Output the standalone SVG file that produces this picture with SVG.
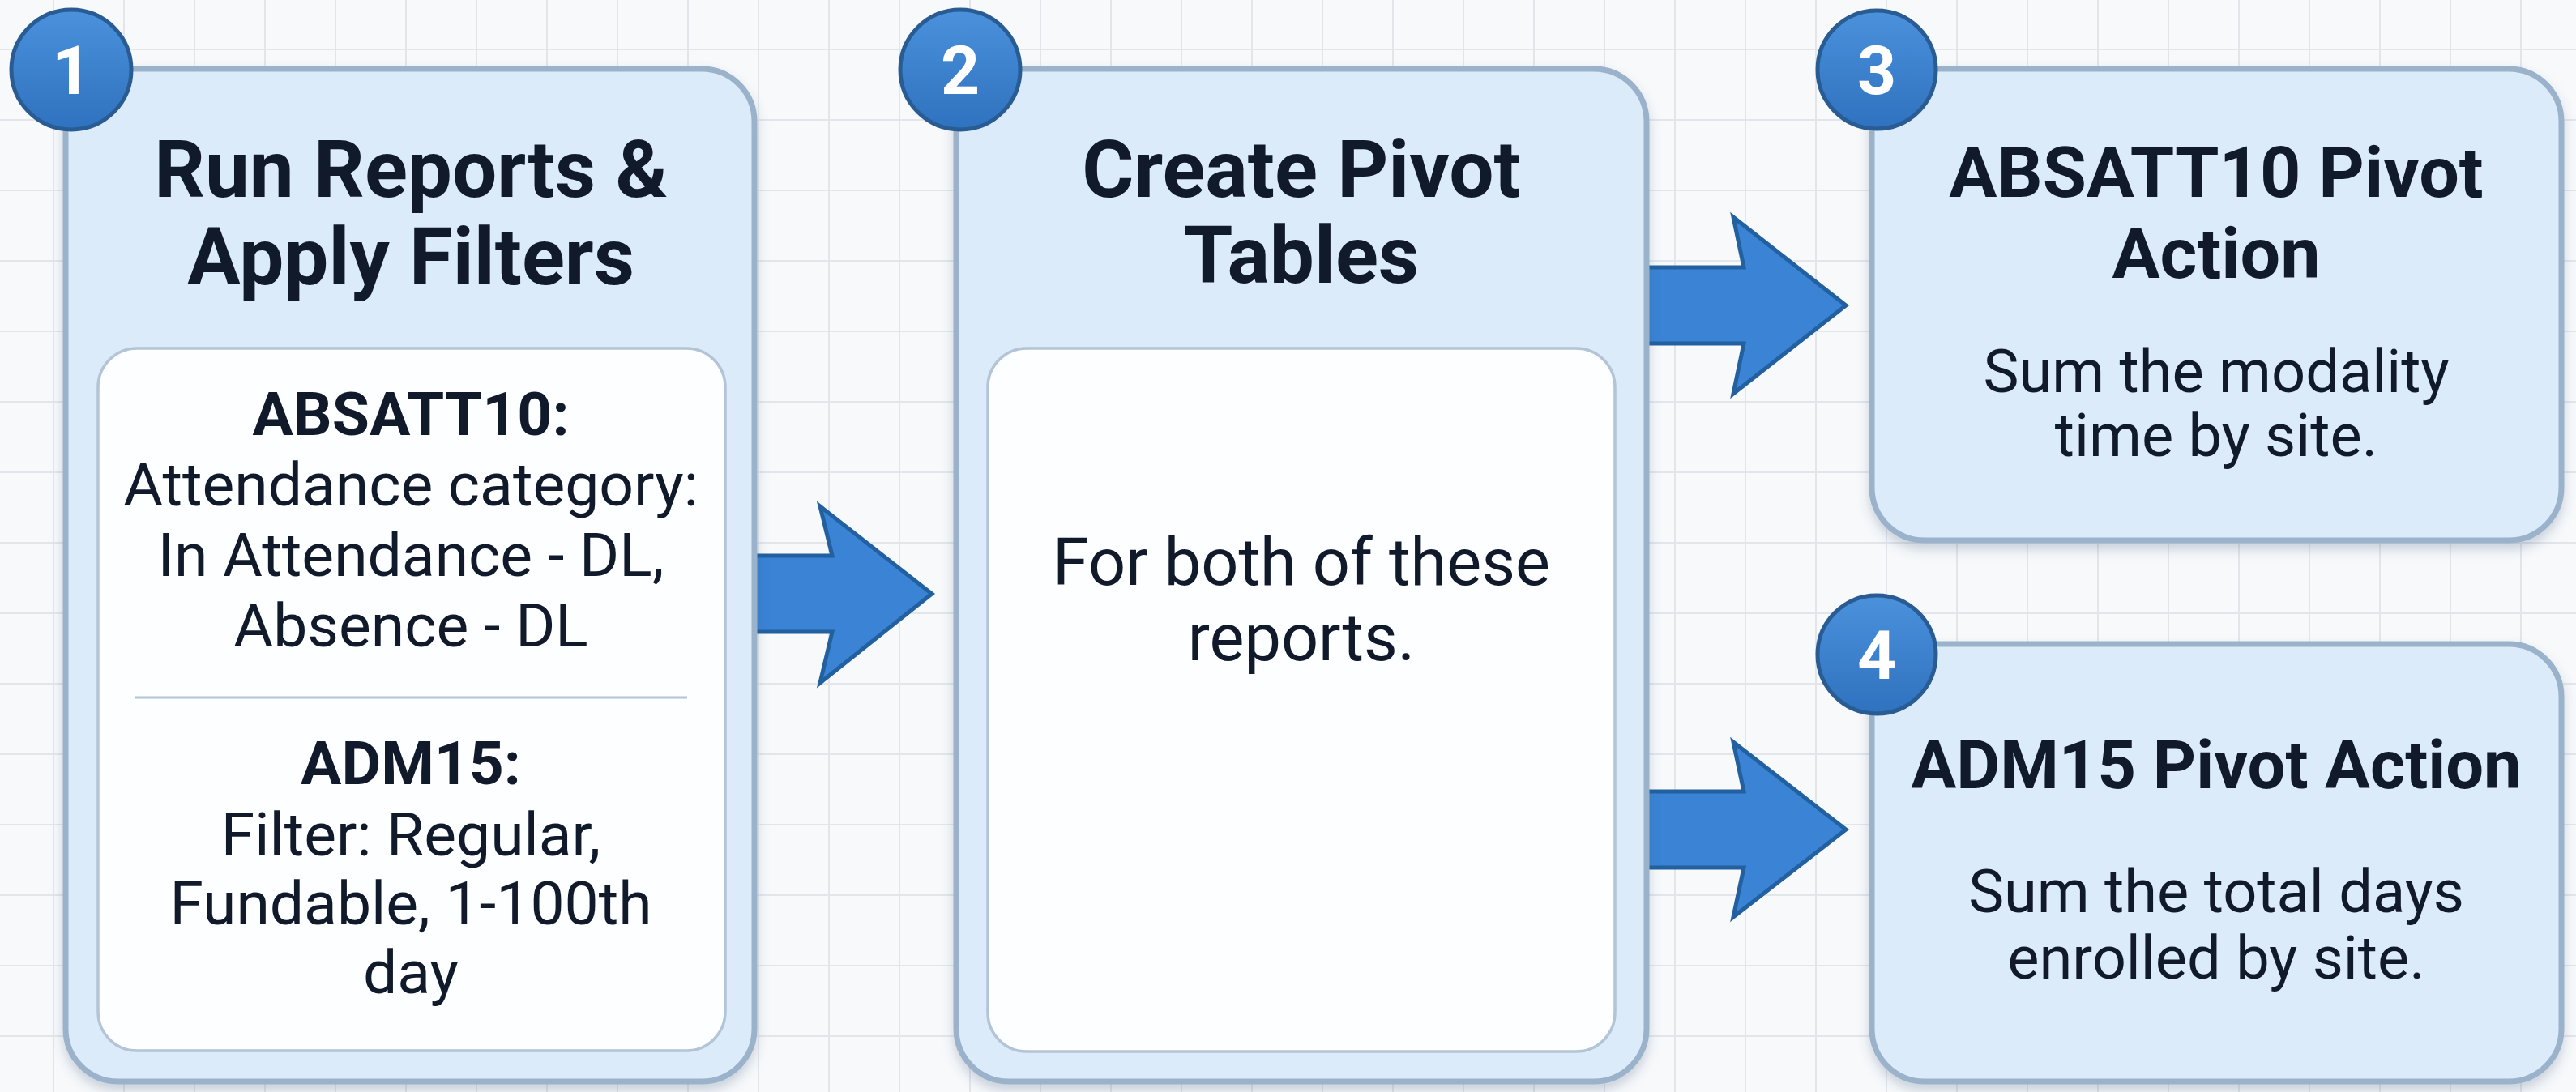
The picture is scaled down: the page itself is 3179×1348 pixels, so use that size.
<svg xmlns="http://www.w3.org/2000/svg" width="3179" height="1348" viewBox="0 0 3179 1348">
<defs>
<style>
.bg{fill:#f7f9fb}
.grid line{stroke:#e2e6eb;stroke-width:2}
.card{fill:#dcebfa;stroke:#9ab2ca;stroke-width:7}
.inner{fill:#fdfeff;stroke:#b2c4d5;stroke-width:3.5}
.divider{stroke:#b2c4d5;stroke-width:3}
.badge{fill:url(#badgeGrad);stroke:#2a5c94;stroke-width:5}
.num{font-family:Roboto,'Liberation Sans',sans-serif;font-weight:700;font-size:84px;fill:#ffffff;text-anchor:middle}
.t{font-family:Roboto,'Liberation Sans',sans-serif;fill:#111a2b;text-anchor:middle}
.title{font-weight:700;font-size:98px}
.title3{font-weight:700;font-size:88px}
.title4{font-weight:700;font-size:83px}
.sub{font-weight:700;font-size:75px}
.body{font-weight:400;font-size:75px}
.body2{font-weight:400;font-size:81px}
.body3{font-weight:400;font-size:74px}
.arrow{fill:#3a83d5;stroke:#22609f;stroke-width:5;stroke-linejoin:miter}
</style>
<linearGradient id="badgeGrad" x1="0" y1="0" x2="0" y2="1">
<stop offset="0" stop-color="#4b91dc"/>
<stop offset="1" stop-color="#2f72bf"/>
</linearGradient>
<filter id="shadow" x="-10%" y="-10%" width="120%" height="125%">
<feDropShadow dx="0" dy="8" stdDeviation="7" flood-color="#3a5878" flood-opacity="0.25"/>
</filter>
</defs>

<rect class="bg" x="0" y="0" width="3179" height="1348"/>
<g class="grid">
<line x1="66" y1="0" x2="66" y2="1348"/><line x1="153" y1="0" x2="153" y2="1348"/><line x1="240" y1="0" x2="240" y2="1348"/><line x1="327" y1="0" x2="327" y2="1348"/><line x1="414" y1="0" x2="414" y2="1348"/><line x1="501" y1="0" x2="501" y2="1348"/><line x1="588" y1="0" x2="588" y2="1348"/><line x1="675" y1="0" x2="675" y2="1348"/><line x1="762" y1="0" x2="762" y2="1348"/><line x1="849" y1="0" x2="849" y2="1348"/><line x1="936" y1="0" x2="936" y2="1348"/><line x1="1023" y1="0" x2="1023" y2="1348"/><line x1="1110" y1="0" x2="1110" y2="1348"/><line x1="1197" y1="0" x2="1197" y2="1348"/><line x1="1284" y1="0" x2="1284" y2="1348"/><line x1="1371" y1="0" x2="1371" y2="1348"/><line x1="1458" y1="0" x2="1458" y2="1348"/><line x1="1545" y1="0" x2="1545" y2="1348"/><line x1="1632" y1="0" x2="1632" y2="1348"/><line x1="1719" y1="0" x2="1719" y2="1348"/><line x1="1806" y1="0" x2="1806" y2="1348"/><line x1="1893" y1="0" x2="1893" y2="1348"/><line x1="1980" y1="0" x2="1980" y2="1348"/><line x1="2067" y1="0" x2="2067" y2="1348"/><line x1="2154" y1="0" x2="2154" y2="1348"/><line x1="2241" y1="0" x2="2241" y2="1348"/><line x1="2328" y1="0" x2="2328" y2="1348"/><line x1="2415" y1="0" x2="2415" y2="1348"/><line x1="2502" y1="0" x2="2502" y2="1348"/><line x1="2589" y1="0" x2="2589" y2="1348"/><line x1="2676" y1="0" x2="2676" y2="1348"/><line x1="2763" y1="0" x2="2763" y2="1348"/><line x1="2850" y1="0" x2="2850" y2="1348"/><line x1="2937" y1="0" x2="2937" y2="1348"/><line x1="3024" y1="0" x2="3024" y2="1348"/><line x1="3111" y1="0" x2="3111" y2="1348"/>
<line x1="0" y1="61" x2="3179" y2="61"/><line x1="0" y1="148" x2="3179" y2="148"/><line x1="0" y1="235" x2="3179" y2="235"/><line x1="0" y1="322" x2="3179" y2="322"/><line x1="0" y1="409" x2="3179" y2="409"/><line x1="0" y1="496" x2="3179" y2="496"/><line x1="0" y1="583" x2="3179" y2="583"/><line x1="0" y1="670" x2="3179" y2="670"/><line x1="0" y1="757" x2="3179" y2="757"/><line x1="0" y1="844" x2="3179" y2="844"/><line x1="0" y1="931" x2="3179" y2="931"/><line x1="0" y1="1018" x2="3179" y2="1018"/><line x1="0" y1="1105" x2="3179" y2="1105"/><line x1="0" y1="1192" x2="3179" y2="1192"/><line x1="0" y1="1279" x2="3179" y2="1279"/>
</g>

<g id="connectors">
<polygon class="arrow" points="900,686 1027,686 1012,625 1150,733 1012,843 1027,780 900,780"/>
<polygon class="arrow" points="2000,330 2152,330 2139,268 2278,377 2139,486 2152,424 2000,424"/>
<polygon class="arrow" points="2000,977 2152,977 2139,916 2278,1024 2139,1132 2152,1071 2000,1071"/>
</g>

<g id="node1">
<rect class="card" filter="url(#shadow)" x="81" y="85" width="850" height="1250" rx="65"/>
<rect class="inner" x="121" y="430" width="774" height="867" rx="48"/>
<text class="t title" x="507" y="243">Run Reports &amp;</text>
<text class="t title" x="507" y="351">Apply Filters</text>
<text class="t sub" x="507" y="537">ABSATT10:</text>
<text class="t body" x="507" y="624">Attendance category:</text>
<text class="t body" x="507" y="711">In Attendance - DL,</text>
<text class="t body" x="507" y="798">Absence - DL</text>
<line class="divider" x1="166" y1="861" x2="848" y2="861"/>
<text class="t sub" x="507" y="968">ADM15:</text>
<text class="t body" x="507" y="1056">Filter: Regular,</text>
<text class="t body" x="507" y="1141">Fundable, 1-100th</text>
<text class="t body" x="507" y="1226">day</text>
<circle class="badge" cx="88" cy="86" r="74"/>
<text class="num" x="88" y="116">1</text>
</g>

<g id="node2">
<rect class="card" filter="url(#shadow)" x="1180" y="85" width="852" height="1250" rx="65"/>
<rect class="inner" x="1219" y="430" width="774" height="868" rx="48"/>
<text class="t title" x="1606" y="243">Create Pivot</text>
<text class="t title" x="1606" y="349">Tables</text>
<text class="t body2" x="1606" y="722">For both of these</text>
<text class="t body2" x="1606" y="815">reports.</text>
<circle class="badge" cx="1185" cy="86" r="74"/>
<text class="num" x="1185" y="116">2</text>
</g>

<g id="node3">
<rect class="card" filter="url(#shadow)" x="2310" y="85" width="851" height="582" rx="65"/>
<text class="t title3" x="2735" y="243">ABSATT10 Pivot</text>
<text class="t title3" x="2735" y="343">Action</text>
<text class="t body3" x="2735" y="484">Sum the modality</text>
<text class="t body3" x="2735" y="563">time by site.</text>
<circle class="badge" cx="2316" cy="86" r="73"/>
<text class="num" x="2316" y="116">3</text>
</g>

<g id="node4">
<rect class="card" filter="url(#shadow)" x="2310" y="795" width="851" height="540" rx="65"/>
<text class="t title4" x="2735" y="973">ADM15 Pivot Action</text>
<text class="t body3" x="2735" y="1126">Sum the total days</text>
<text class="t body3" x="2735" y="1208">enrolled by site.</text>
<circle class="badge" cx="2316" cy="808" r="73"/>
<text class="num" x="2316" y="838">4</text>
</g>
</svg>
